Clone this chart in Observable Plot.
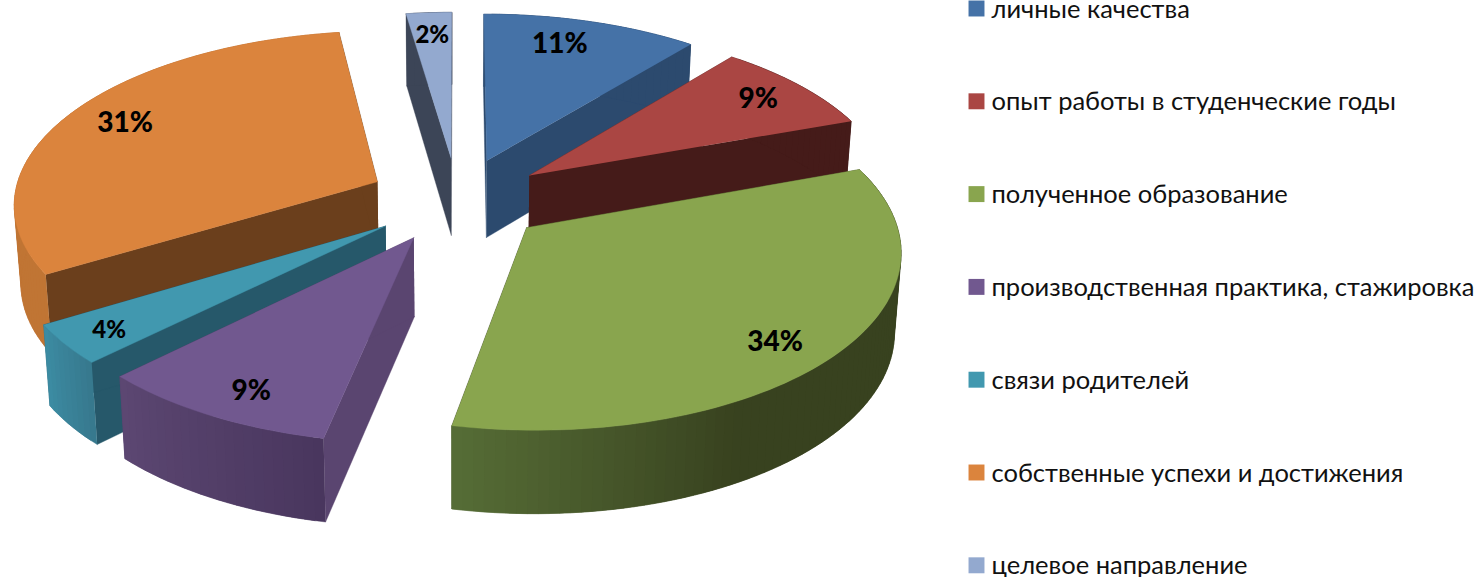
<!DOCTYPE html>
<html><head><meta charset="utf-8">
<script src="https://cdn.jsdelivr.net/npm/d3@7"></script>
<script src="https://cdn.jsdelivr.net/npm/@observablehq/plot@0.6"></script>
<style>html,body{margin:0;padding:0;background:#fff;overflow:hidden}</style>
</head><body><div id="chart"></div>
<script>
const categories = ["личные качества","опыт работы в студенческие годы","полученное образование","производственная практика, стажировка","связи родителей","собственные успехи и достижения","целевое направление"];
const shares = [10.9,8.6,33.7,9.4,3.7,31.4,2.3];
const topColors = ["#4572a7","#aa4643","#89a54e","#71588f","#4198af","#db843d","#93a9cf"];
const sideColors = ["#2c4a6e","#451b19","#38421f","#5a4570","#26586a","#6b3f1c","#3c4557"];
const arcRamps = [["#2c4a6e","#2c4a6e"],["#451b19","#451b19"],["#38421f","#38421f","#38421f","#566d36"],["#49365e","#5c4772"],["#37788d","#3c8ca3"],["#c07534","#c07534"],["#3c4557","#3c4557"]];
const drawOrder = [6,0,1,5,4,3,2];
const labelRadius = [0.81,0.84,0.853,0.861,0.878,0.825,0.832];
const labelAngleShift = [-3,0,3.5,-1.9,-0.7,1,0];
const labelSizes = [28,28,28,28,24,28,24];

const W=1483,H=577, cx=457, cy=199, Rx=364, Ry=172, persp=0.116, explode=0.246, depth=78, depthK=0.06, converge=0.015;
const rad=d=>d*Math.PI/180;
function project(X,Z){const s=1/(1+persp*Z);return {x:cx+Rx*X*s,y:cy-Ry*Z*s,Z};}
let cum=0;
const slices=shares.map((v,i)=>{const a0=cum/100*360;cum+=v;const a1=cum/100*360;return {i,a0,a1,m:(a0+a1)/2};});
function ground(sl,r,a){return [r*Math.sin(rad(a))+explode*Math.sin(rad(sl.m)), r*Math.cos(rad(a))+explode*Math.cos(rad(sl.m))];}
const pts=[]; let pid=0;
function poly(points,color){const id=pid++;for(const p of points)pts.push({id,x:p.x,y:p.y,color});}
const low=p=>({x:p.x-(p.x-cx)*converge,y:p.y+depth*(1-depthK*p.Z)});
for(const i of drawOrder){
  const sl=slices[i];
  const apex=project(...ground(sl,0,0));
  const n=Math.max(6,Math.ceil((sl.a1-sl.a0)/1.5));
  const arc=d3.range(n+1).map(k=>project(...ground(sl,1,sl.a0+(sl.a1-sl.a0)*k/n)));
  const side=sideColors[i];
  poly([apex,arc[0],low(arc[0]),low(apex)],side);
  poly([apex,arc[n],low(arc[n]),low(apex)],side);
  const ramp=d3.scaleLinear().domain(arcRamps[i].map((_,k,a)=>k/(a.length-1))).range(arcRamps[i]);
  for(let k=0;k<n;k++){
    const e=Math.min(n,k+2), top=arc.slice(k,e+1), bottom=top.map(low).reverse();
    poly([...top,...bottom],d3.color(ramp((k+.5)/n)).formatHex());
  }
  poly([apex,...arc],topColors[i]);
}
const labels=slices.map(sl=>{const p=project(...ground(sl,labelRadius[sl.i],sl.m+labelAngleShift[sl.i]));return {x:p.x,y:p.y,t:Math.round(shares[sl.i])+"%",size:labelSizes[sl.i]};});
const legend=categories.map((c,i)=>({c,i,color:topColors[i],y:8+i*92.8}));

const plot=Plot.plot({width:W,height:H,margin:0,
  x:{domain:[0,W],range:[0,W],axis:null},y:{domain:[0,H],range:[0,H],axis:null},
  color:{type:"identity"},
  marks:[
    Plot.line(pts,{x:"x",y:"y",z:"id",fill:"color",stroke:"color",strokeWidth:0.4,curve:"linear"}),
    Plot.text(labels,{x:"x",y:"y",text:"t",fontFamily:"Lato",fontWeight:900,fontSize:"size",fill:"#000"}),
    Plot.dot(legend,{x:()=>976,y:"y",r:9,symbol:"square",fill:"color",stroke:"none"}),
    Plot.text(legend,{x:()=>991,y:"y",dy:1,text:"c",textAnchor:"start",fontFamily:"Lato",fontSize:25.5,fill:"#111"})
  ]});
plot.style.background="#fff";
document.getElementById("chart").appendChild(plot);
</script></body></html>
